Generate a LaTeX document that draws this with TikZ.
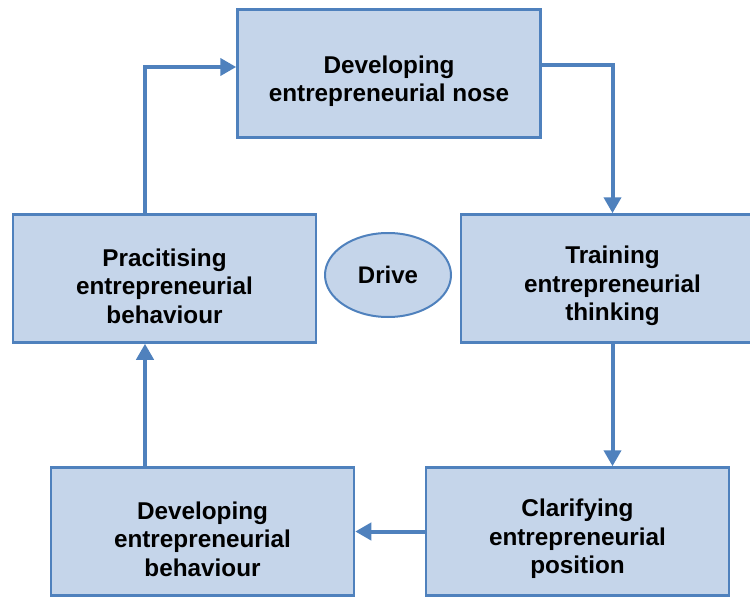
\documentclass[tikz,border=0pt]{standalone}
\usepackage{fontspec}
\setmainfont{Liberation Sans}
\usetikzlibrary{arrows.meta,shapes.geometric}
\definecolor{boxfill}{HTML}{C5D5EA}
\definecolor{boxline}{HTML}{4F81BD}
\newcommand{\toppad}{\rule{0pt}{33pt}}
\tikzstyle{stage} = [rectangle, minimum width=303pt, minimum height=128pt, text centered, align=center, fill=boxfill, draw=boxline, line width=2.5pt, font=\fontsize{24.3pt}{28.5pt}\selectfont\bfseries]
\tikzstyle{flow} = [draw=boxline, line width=4pt, -{Triangle[length=16pt,width=17pt]}]

\begin{document}
\begin{tikzpicture}[x=1pt,y=-1pt]
\useasboundingbox (0,0) rectangle (750,597);

\node (nose) [stage] at (389,73.5) {\toppad Developing\\entrepreneurial nose};
\node (thinking) [stage] at (612.5,278.5) {\toppad Training\\entrepreneurial\\thinking};
\node (position) [stage] at (577.5,531.5) {\toppad Clarifying\\entrepreneurial\\position};
\node (devbehav) [stage] at (202.5,531.5) {\toppad Developing\\entrepreneurial\\behaviour};
\node (pracbehav) [stage] at (164.5,278.5) {\toppad Pracitising\\entrepreneurial\\behaviour};
\node (drive) [ellipse, minimum width=126pt, minimum height=84pt, fill=boxfill, draw=boxline, line width=2pt, font=\fontsize{24pt}{28.5pt}\selectfont\bfseries] at (388,275) {Drive};

\coordinate (c1) at ([yshift=8.5pt]nose.east);
\coordinate (c2) at ([xshift=-19.5pt]pracbehav.north);
\coordinate (c3) at ([xshift=-57.5pt]devbehav.north);

\draw[flow] (c1) -| (thinking.north);
\draw[flow] (thinking.south) -- (thinking.south |- position.north);
\draw[flow] (position.west) -- (position.west -| devbehav.east);
\draw[flow] (c3) -- (c3 |- pracbehav.south);
\draw[flow] (c2) |- ([yshift=6.5pt]nose.west);
\end{tikzpicture}
\end{document}
